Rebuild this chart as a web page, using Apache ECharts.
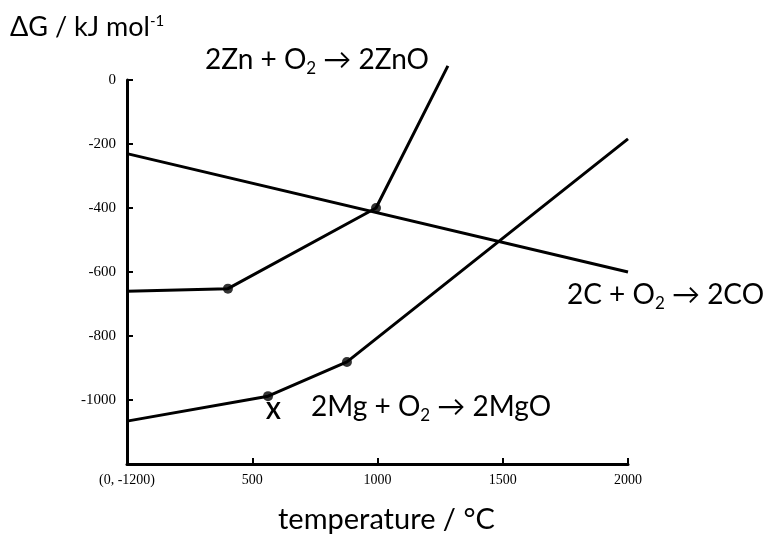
<!DOCTYPE html>
<html>
<head>
<meta charset="utf-8">
<script src="https://cdn.jsdelivr.net/npm/echarts@6/dist/echarts.min.js"></script>
<style>
  html, body { margin: 0; padding: 0; background: #fff; }
  #main { width: 769px; height: 537px; }
</style>
</head>
<body>
<div id="main"></div>
<script>
// temperature (degC) vs deltaG (kJ/mol)
var coLine  = [[0, -230], [2000, -600]];
var znoLine = [[0, -660], [403, -652], [994, -400], [1281, 44]];
var mgoLine = [[0, -1066], [563, -988], [878, -881], [2000, -184]];
var znoKinks = [[403, -652], [994, -400]];
var mgoKinks = [[563, -988], [878, -881]];

var labelFont = 'Lato';

function lineSeries(data) {
    return {
        type: 'line',
        data: data,
        symbol: 'none',
        clip: false,
        lineStyle: { color: '#000', width: 3 },
        silent: true
    };
}
function kinkSeries(data) {
    return {
        type: 'scatter',
        data: data,
        symbolSize: 10,
        itemStyle: { color: '#000' },
        silent: true
    };
}
function equation(text, left, top) {
    return {
        type: 'text', left: left, top: top,
        style: {
            text: text,
            fontFamily: labelFont, fontSize: 28, lineHeight: 34, fill: '#000',
            rich: { sub: { fontFamily: labelFont, fontSize: 17, lineHeight: 14, verticalAlign: 'bottom', fill: '#000' } }
        }
    };
}

var chartDom = document.getElementById('main');
var myChart = echarts.init(chartDom);
var option = {
    animation: false,
    grid: { left: 127, right: 141, top: 80, bottom: 73 },
    xAxis: {
        type: 'value',
        min: 0,
        max: 2000,
        interval: 500,
        splitLine: { show: false },
        axisLine: { onZero: false, lineStyle: { color: '#000', width: 3 } },
        axisTick: { inside: true, length: 6, lineStyle: { color: '#000', width: 2 } },
        axisLabel: {
            color: '#000',
            fontFamily: 'Liberation Serif',
            fontSize: 14,
            margin: 9,
            formatter: function (v) { return v === 0 ? '(0, -1200)' : String(v); }
        }
    },
    yAxis: {
        type: 'value',
        min: -1200,
        max: 0,
        interval: 200,
        splitLine: { show: false },
        axisLine: { show: true, onZero: false, lineStyle: { color: '#000', width: 3 } },
        axisTick: { show: true, inside: true, length: 6, lineStyle: { color: '#000', width: 2 } },
        axisLabel: {
            color: '#000',
            fontFamily: 'Liberation Serif',
            fontSize: 15,
            margin: 11,
            formatter: function (v) { return v === -1200 ? '' : String(v); }
        }
    },
    series: [
        lineSeries(coLine),
        lineSeries(znoLine),
        lineSeries(mgoLine),
        kinkSeries(znoKinks),
        kinkSeries(mgoKinks)
    ],
    graphic: [
        {
            type: 'text', left: 10, top: 14,
            style: {
                text: 'ΔG / kJ mol{sup|-1}',
                fontFamily: labelFont, fontSize: 27, fill: '#000',
                rich: { sup: { fontFamily: labelFont, fontSize: 15, verticalAlign: 'top', fill: '#000' } }
            }
        },
        equation('2Zn + O{sub|2} → 2ZnO', 205, 43),
        equation('2C + O{sub|2} → 2CO', 567, 278),
        equation('2Mg + O{sub|2} → 2MgO', 311, 390),
        {
            type: 'text', left: 266, top: 401,
            style: { text: 'X', fontFamily: labelFont, fontSize: 22, fontWeight: 'bold', fill: '#000' }
        },
        {
            type: 'text', left: 278, top: 505,
            style: { text: 'temperature / °C', fontFamily: labelFont, fontSize: 29, fill: '#000' }
        }
    ]
};
myChart.setOption(option);
</script>
</body>
</html>
